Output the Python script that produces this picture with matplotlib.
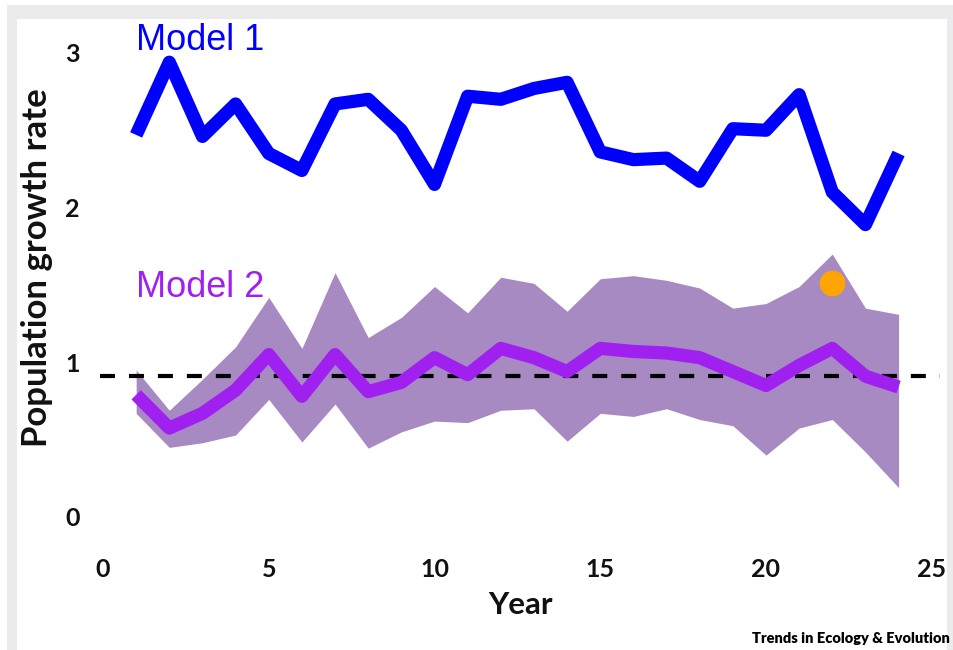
import matplotlib
matplotlib.use("Agg")
import matplotlib.pyplot as plt
from matplotlib.patches import Rectangle

# ---------------- data ----------------
years = list(range(1, 25))
model1 = [2.47, 2.94, 2.46, 2.67, 2.35, 2.24, 2.67, 2.70, 2.50, 2.15, 2.72, 2.70,
          2.77, 2.81, 2.36, 2.31, 2.32, 2.17, 2.51, 2.50, 2.73, 2.10, 1.89, 2.35]
model2 = [0.79, 0.575, 0.67, 0.82, 1.05, 0.78, 1.05, 0.81, 0.87, 1.03, 0.92, 1.09,
          1.03, 0.94, 1.09, 1.07, 1.06, 1.03, 0.94, 0.85, 0.98, 1.09, 0.91, 0.84]
model2_upper = [0.95, 0.69, 0.89, 1.10, 1.42, 1.09, 1.58, 1.16, 1.29, 1.49, 1.32, 1.55,
                1.51, 1.33, 1.54, 1.56, 1.53, 1.48, 1.35, 1.38, 1.49, 1.70, 1.35, 1.31]
model2_lower = [0.67, 0.45, 0.48, 0.53, 0.76, 0.485, 0.73, 0.445, 0.55, 0.62, 0.61, 0.69,
                0.70, 0.49, 0.67, 0.65, 0.70, 0.63, 0.59, 0.40, 0.575, 0.63, 0.42, 0.19]
threshold = 0.91
threshold_span = [-0.1, 25.25]
obs_year = [22]
obs_value = [1.51]
xticks = [0, 5, 10, 15, 20, 25]
yticks = [0, 1, 2, 3]
series_labels = ["Model 1", "Model 2"]
xlabel = "Year"
ylabel = "Population growth rate"
credit = "Trends in Ecology & Evolution"

# ---------------- figure ----------------
W, H = 954, 650
fig = plt.figure(figsize=(W / 100, H / 100), dpi=100)
fig.patch.set_facecolor("white")
fig.patches.append(Rectangle((7 / W, 0), 1 - 7 / W, 1 - 5 / H, transform=fig.transFigure,
                             facecolor="#ebebee", edgecolor="none", zorder=-20))
fig.patches.append(Rectangle((17 / W, 0), (947 - 17) / W, 1 - 19 / H, transform=fig.transFigure,
                             facecolor="white", edgecolor="none", zorder=-19))

# axes placement in pixels (x: 0 -> 103px, 33.15 px/unit ; y: 0 -> 517px, 154.7 px/unit)
x0, xs = 103.0, 33.15
y0, ys = 517.0, 154.7
xlim = (-0.2, 25.4)
ylim = (-0.15, 3.3)
left_px = x0 + xlim[0] * xs
right_px = x0 + xlim[1] * xs
bottom_px = y0 - ylim[0] * ys
top_px = y0 - ylim[1] * ys
ax = fig.add_axes([left_px / W, 1 - bottom_px / H, (right_px - left_px) / W,
                   (bottom_px - top_px) / H])
ax.set_facecolor("none")
ax.set_xlim(*xlim)
ax.set_ylim(*ylim)
for s in ax.spines.values():
    s.set_visible(False)

tick_font = dict(family=["Lato", "DejaVu Sans"], size=18, weight="bold")
ax.set_xticks(xticks)
ax.set_yticks(yticks)
ax.set_xticklabels([str(v) for v in xticks], **tick_font)
ax.set_yticklabels([str(v) for v in yticks], **tick_font)
ax.tick_params(axis="both", length=0, colors="#111111")
ax.tick_params(axis="x", pad=13)
ax.tick_params(axis="y", pad=12)

# band
ax.fill_between(years, model2_lower, model2_upper, color="#a88ac3", linewidth=0, zorder=1)
# threshold dashed line (dash 15px, gap 14px, 4px thick)
ax.plot(threshold_span, [threshold, threshold], color="black", linewidth=3,
        dashes=(3.6, 3.35), dash_capstyle="butt", zorder=2)
# model lines
ax.plot(years, model2, color="#a020f0", linewidth=9.5, solid_joinstyle="round",
        solid_capstyle="butt", zorder=3)
ax.plot(years, model1, color="#0000ff", linewidth=9.5, solid_joinstyle="round",
        solid_capstyle="butt", zorder=3)
# observation
ax.plot(obs_year, obs_value, "o", color="#ffa500", markersize=18.5, markeredgewidth=0, zorder=4)

# series labels
label_font = ["Liberation Sans", "DejaVu Sans"]
ax.text(1.0, 3.02, series_labels[0], color="#0000ff", fontsize=26, family=label_font,
        ha="left", va="baseline")
ax.text(1.0, 1.42, series_labels[1], color="#a020f0", fontsize=26, family=label_font,
        ha="left", va="baseline")

# axis titles
fig.text(37 / W, 1 - 268 / H, ylabel, rotation=90, ha="center", va="center",
         fontsize=25, weight="bold", family=["Lato", "DejaVu Sans"], color="#111111")
fig.text(520 / W, 1 - 605 / H, xlabel, ha="center", va="center",
         fontsize=22.5, weight="bold", family=["Lato", "DejaVu Sans"], color="#111111")

# credit
fig.text(950 / W, 1 - 643 / H, credit, ha="right", va="baseline", fontsize=10.5,
         weight="heavy", family=["Lato", "DejaVu Sans"], color="black")

fig.savefig("out.png", dpi=100)
